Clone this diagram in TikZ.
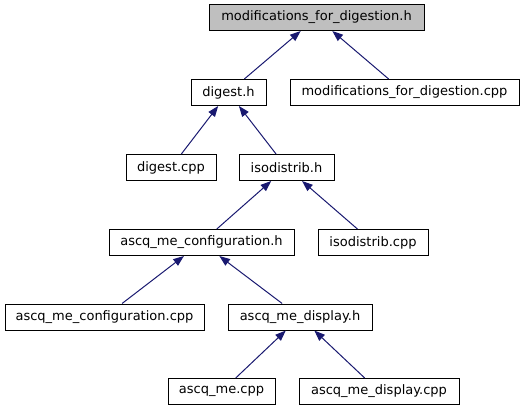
\documentclass[tikz,border=0pt]{standalone}
\usepackage{fontspec}
\setmainfont{DejaVu Sans}
\usetikzlibrary{arrows.meta}
\definecolor{edgeblue}{HTML}{191970}
\definecolor{rootgray}{HTML}{BFBFBF}
\tikzset{
  box/.style={draw=black, fill=white, line width=0.75pt, inner sep=0pt,
    minimum height={26*0.75pt}, font=\fontsize{9.75}{11}\selectfont},
  rootbox/.style={box, fill=rootgray},
  dep/.style={draw=edgeblue, line width=0.75pt, {Triangle[length=8pt,width=6pt]}-}
}
\begin{document}
\begin{tikzpicture}[x=0.75pt,y=-0.75pt]
\useasboundingbox (0,0) rectangle (525,411);
\node[rootbox, minimum width={215*0.75pt}] (top) at (316.5,17.5) {modifications\_for\_digestion.h};
\node[box, minimum width={75*0.75pt}] (digh) at (228.5,92.5) {digest.h};
\node[box, minimum width={229*0.75pt}] (modcpp) at (404.5,92.5) {modifications\_for\_digestion.cpp};
\node[box, minimum width={90*0.75pt}] (digcpp) at (171,167.5) {digest.cpp};
\node[box, minimum width={95*0.75pt}] (isoh) at (286.5,167.5) {isodistrib.h};
\node[box, minimum width={185*0.75pt}] (confh) at (201.5,242.5) {ascq\_me\_configuration.h};
\node[box, minimum width={110*0.75pt}] (isocpp) at (373,242.5) {isodistrib.cpp};
\node[box, minimum width={199*0.75pt}] (confcpp) at (104.5,317) {ascq\_me\_configuration.cpp};
\node[box, minimum width={144*0.75pt}] (disph) at (300,317) {ascq\_me\_display.h};
\node[box, minimum width={107*0.75pt}] (mecpp) at (221.5,391.5) {ascq\_me.cpp};
\node[box, minimum width={160*0.75pt}] (dispcpp) at (379,391.5) {ascq\_me\_display.cpp};
\draw[dep] (top) -- (digh);
\draw[dep] (top) -- (modcpp);
\draw[dep] (digh) -- (digcpp);
\draw[dep] (digh) -- (isoh);
\draw[dep] (isoh) -- (confh);
\draw[dep] (isoh) -- (isocpp);
\draw[dep] (confh) -- (confcpp);
\draw[dep] (confh) -- (disph);
\draw[dep] (disph) -- (mecpp);
\draw[dep] (disph) -- (dispcpp);
\end{tikzpicture}
\end{document}
